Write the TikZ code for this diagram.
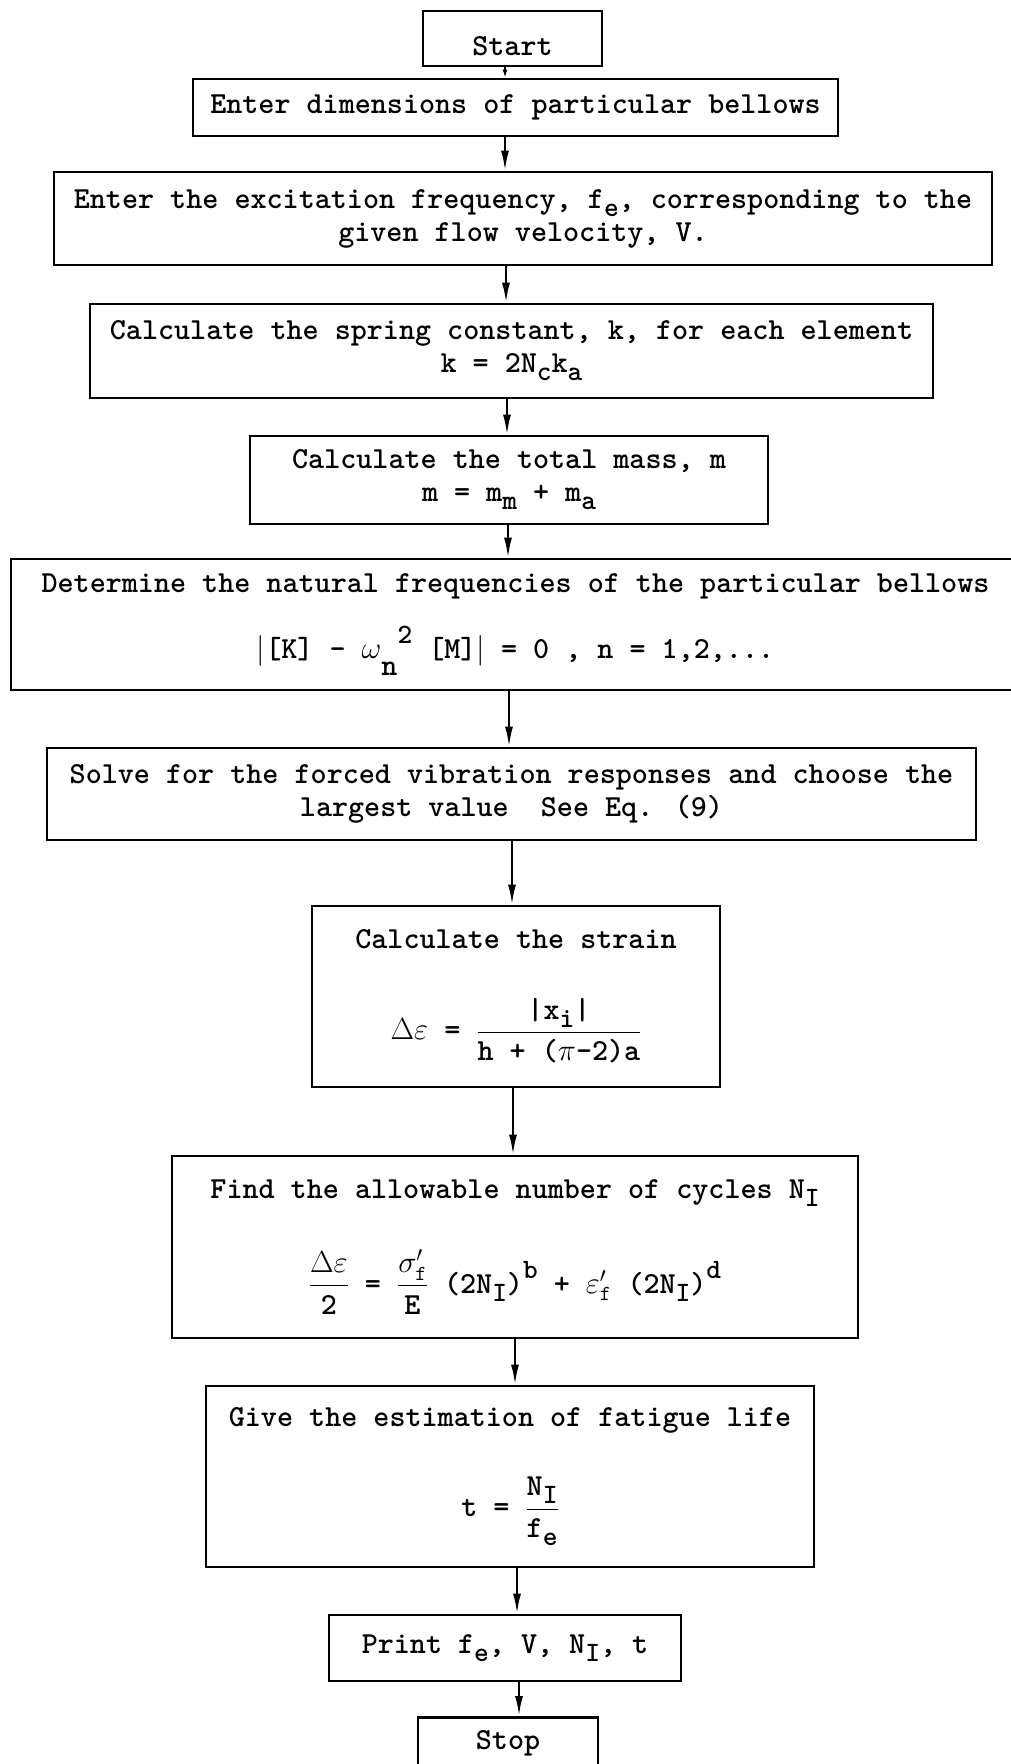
\RequirePackage{fix-cm}
\documentclass[tikz,border=0pt]{standalone}
\usetikzlibrary{arrows.meta}
\newcommand{\dn}[1]{\raisebox{-8pt}{\fontsize{28}{28}\selectfont #1}}
\newcommand{\up}[1]{\raisebox{15pt}{\fontsize{28}{28}\selectfont #1}}
\begin{document}
\begin{tikzpicture}[x=1pt, y=-1pt,
  stepbox/.style={draw, line width=2.6pt, inner sep=0pt, align=center,
    font=\fontsize{30.6}{33}\selectfont\ttfamily\bfseries},
  flow/.style={-{Latex[length=20pt,width=8pt]}, line width=2.2pt}]
  \useasboundingbox (0,0) rectangle (1011,1764);

  \node[stepbox, minimum width=179pt, minimum height=55pt, text height=34pt, text depth=0pt] (start) at (512.5, 38.5) {Start};
  \node[stepbox, minimum width=645pt, minimum height=57pt] (dims) at (515.5, 107.5) {Enter dimensions of particular bellows};
  \node[stepbox, minimum width=938pt, minimum height=93pt] (exc) at (523, 218.5)
    {Enter the excitation frequency, f\dn{e}, corresponding to the\\given flow velocity, V.};
  \node[stepbox, minimum width=843pt, minimum height=94pt] (spring) at (511.5, 351)
    {Calculate the spring constant, k, for each element\\k = 2N\dn{c}k\dn{a}};
  \node[stepbox, minimum width=518pt, minimum height=88pt] (mass) at (509, 480)
    {Calculate the total mass, m\\m = m\dn{m} + m\dn{a}};
  \node[stepbox, minimum width=1009pt, minimum height=131pt] (nat) at (515.5, 624.5)
    {Determine the natural frequencies of the particular bellows\\[26pt]
     $|$[K] - $\omega$\raisebox{-17pt}{n}\up{2} [M]$|$ = 0 , n = 1,2,...};
  \node[stepbox, minimum width=929pt, minimum height=92pt] (solve) at (511.5, 794)
    {Solve for the forced vibration responses and choose the\\largest value~~See Eq. (9)};
  \node[stepbox, minimum width=408pt, minimum height=181pt] (strain) at (516, 996.5)
    {Calculate the strain\\[48pt]
     $\Delta\varepsilon$ = $\displaystyle\frac{\hbox{|x\dn{i}|}}{\hbox{h + ($\pi$-2)a}}$};
  \node[stepbox, minimum width=686pt, minimum height=182pt] (find) at (515, 1247)
    {Find the allowable number of cycles N\dn{I}\\[42pt]
     $\displaystyle\frac{\Delta\varepsilon}{\hbox{2}}$ =
     $\displaystyle\frac{\sigma'_{\mathtt{f}}}{\hbox{E}}$ (2N\dn{I})\up{b} +
     $\varepsilon'_{\mathtt{f}}$ (2N\dn{I})\up{d}};
  \node[stepbox, minimum width=608pt, minimum height=181pt] (give) at (510, 1476.5)
    {Give the estimation of fatigue life\\[43pt]
     t = $\displaystyle\frac{\hbox{N\dn{I}}}{\hbox{f\dn{e}}}$};
  \node[stepbox, minimum width=352pt, minimum height=66pt] (print) at (505, 1648)
    {Print f\dn{e}, V, N\dn{I}, t};
  \node[stepbox, minimum width=180pt, text height=32pt, text depth=30pt, anchor=north] (stop) at (508, 1716) {Stop};

  \draw[-{Latex[length=8pt,width=5pt]}, line width=2pt] (start.south -| 505,0) -- (dims.north -| 505,0);
  \foreach \a/\b/\x in {dims/exc/505, exc/spring/506, spring/mass/507, mass/nat/508,
      nat/solve/509, solve/strain/512, strain/find/513, find/give/515,
      give/print/517, print/stop/519}
    \draw[flow] (\a.south -| \x,0) -- (\b.north -| \x,0);
\end{tikzpicture}
\end{document}
